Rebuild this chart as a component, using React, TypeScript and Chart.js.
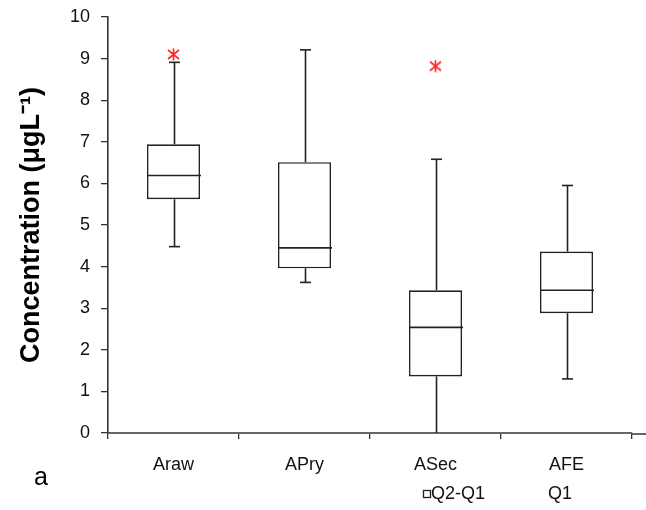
import React, { useEffect, useRef } from 'react';
import { Chart, registerables } from 'chart.js';

Chart.register(...registerables);

// ---- data ----
const categories = ['Araw', 'APry', 'ASec', 'AFE'];
const whiskerMin = [4.48, 3.62, 0.0, 1.3];
const q1 = [5.62, 3.96, 1.36, 2.88];
const median = [6.19, 4.45, 2.54, 3.43];
const q3 = [6.94, 6.51, 3.43, 4.36];
const whiskerMax = [8.91, 9.21, 6.58, 5.95];
const outliers = [9.1, null, 8.82, null];
const yMin = 0;
const yMax = 10;
const yStep = 1;
const legendLabels = ['Q2-Q1', 'Q1'];
const panelLabel = 'a';
const yTitle = 'Concentration (\u03bcgL\u207b\u00b9)';

const FONT = "'Liberation Sans', Arial, sans-serif";
const INK = '#222222';

function makeAsterisk(): HTMLCanvasElement {
  const c = document.createElement('canvas');
  c.width = 15;
  c.height = 15;
  const g = c.getContext('2d')!;
  g.strokeStyle = '#ff2a2a';
  g.lineWidth = 1.7;
  g.beginPath();
  g.moveTo(7.5, 1.5);
  g.lineTo(7.5, 13.5);
  g.moveTo(2, 3);
  g.lineTo(13, 12);
  g.moveTo(13, 3);
  g.lineTo(2, 12);
  g.stroke();
  return c;
}

const boxPlugin = {
  id: 'boxWhiskers',
  afterDatasetsDraw(chart: any) {
    const meta = chart.getDatasetMeta(0);
    const ys = chart.scales.y;
    const ctx = chart.ctx;
    const cap = 5.5;
    ctx.save();
    ctx.strokeStyle = INK;
    ctx.lineWidth = 1.6;
    const line = (x1: number, y1: number, x2: number, y2: number) => {
      ctx.beginPath();
      ctx.moveTo(x1, y1);
      ctx.lineTo(x2, y2);
      ctx.stroke();
    };
    meta.data.forEach((bar: any, i: number) => {
      const x = Math.round(bar.x) + 0.5;
      const hw = bar.width / 2;
      const yMed = ys.getPixelForValue(median[i]);
      line(x - hw, yMed, x + hw, yMed);
      const yQ3 = ys.getPixelForValue(q3[i]);
      const yHi = ys.getPixelForValue(whiskerMax[i]);
      line(x, yQ3, x, yHi);
      line(x - cap, yHi, x + cap, yHi);
      const yQ1 = ys.getPixelForValue(q1[i]);
      const yLo = ys.getPixelForValue(whiskerMin[i]);
      line(x, yQ1, x, yLo);
      if (whiskerMin[i] > yMin) line(x - cap, yLo, x + cap, yLo);
    });
    ctx.restore();
  },
};

const extrasPlugin = {
  id: 'extras',
  afterDraw(chart: any) {
    const ctx = chart.ctx;
    const area = chart.chartArea;
    ctx.save();
    // x axis line continues to the right edge
    ctx.strokeStyle = '#666666';
    ctx.lineWidth = 2;
    ctx.beginPath();
    ctx.moveTo(area.right, area.bottom + 1);
    ctx.lineTo(chart.width, area.bottom + 1);
    ctx.stroke();

    // panel label
    ctx.fillStyle = '#000000';
    ctx.font = `25px ${FONT}`;
    ctx.textBaseline = 'middle';
    ctx.textAlign = 'left';
    ctx.fillText(panelLabel, 34, 478);

    // legend
    const ly = 494;
    ctx.strokeStyle = INK;
    ctx.lineWidth = 1.3;
    ctx.fillStyle = '#ffffff';
    ctx.fillRect(423.5, ly - 3.5, 7, 7);
    ctx.strokeRect(423.5, ly - 3.5, 7, 7);
    ctx.fillStyle = '#111111';
    ctx.font = `18px ${FONT}`;
    ctx.fillText(legendLabels[0], 431, ly);
    ctx.fillText(legendLabels[1], 548, ly);
    ctx.restore();
  },
};

export default function App() {
  const ref = useRef<HTMLCanvasElement | null>(null);

  useEffect(() => {
    if (!ref.current) return;
    const star = makeAsterisk();
    const chart = new Chart(ref.current, {
      type: 'bar',
      data: {
        labels: categories,
        datasets: [
          {
            type: 'bar',
            label: legendLabels[0],
            data: q1.map((v, i) => [v, q3[i]]) as any,
            backgroundColor: '#ffffff',
            borderColor: INK,
            borderWidth: 1.6,
            borderSkipped: false,
            barPercentage: 0.405,
            categoryPercentage: 1,
            order: 2,
          } as any,
          {
            type: 'line',
            label: 'outliers',
            data: outliers as any,
            showLine: false,
            pointStyle: star as any,
            pointRadius: 7,
            borderColor: '#ff2a2a',
            backgroundColor: '#ff2a2a',
            order: 1,
          } as any,
        ],
      },
      options: {
        responsive: false,
        animation: false,
        devicePixelRatio: 1,
        layout: { padding: { top: 17, right: 14, left: 0, bottom: 0 } },
        plugins: {
          legend: { display: false },
          tooltip: { enabled: false },
        },
        events: [],
        scales: {
          x: {
            type: 'category',
            offset: true,
            grid: {
              display: true,
              offset: true,
              drawOnChartArea: false,
              drawTicks: true,
              tickLength: 6,
              color: '#333333',
              lineWidth: 1.3,
            },
            border: { display: true, color: '#666666', width: 2 },
            ticks: {
              color: '#111111',
              font: { family: FONT, size: 18 },
              padding: 15,
            },
            afterFit: (scale: any) => {
              scale.height = 77;
              scale.paddingLeft = 0;
              scale.paddingRight = 0;
            },
          },
          y: {
            type: 'linear',
            min: yMin,
            max: yMax,
            ticks: {
              stepSize: yStep,
              color: '#111111',
              font: { family: FONT, size: 18 },
              padding: 11,
            },
            grid: {
              display: true,
              drawOnChartArea: false,
              drawTicks: true,
              tickLength: 7,
              color: '#333333',
              lineWidth: 1.3,
            },
            border: { display: true, color: '#333333', width: 1.6 },
            title: {
              display: true,
              text: yTitle,
              color: '#000000',
              font: { family: FONT, size: 27, weight: 'bold' },
              padding: { top: 15, bottom: 0 },
            },
            afterFit: (scale: any) => {
              scale.width = 108;
              scale.paddingTop = 0;
              scale.paddingBottom = 0;
            },
          },
        },
      },
      plugins: [boxPlugin, extrasPlugin],
    });
    return () => chart.destroy();
  }, []);

  return (
    <div style={{ position: 'fixed', left: 0, top: 0, width: 646, height: 510, background: '#ffffff' }}>
      <canvas ref={ref} width={646} height={510} style={{ display: 'block' }} />
    </div>
  );
}
